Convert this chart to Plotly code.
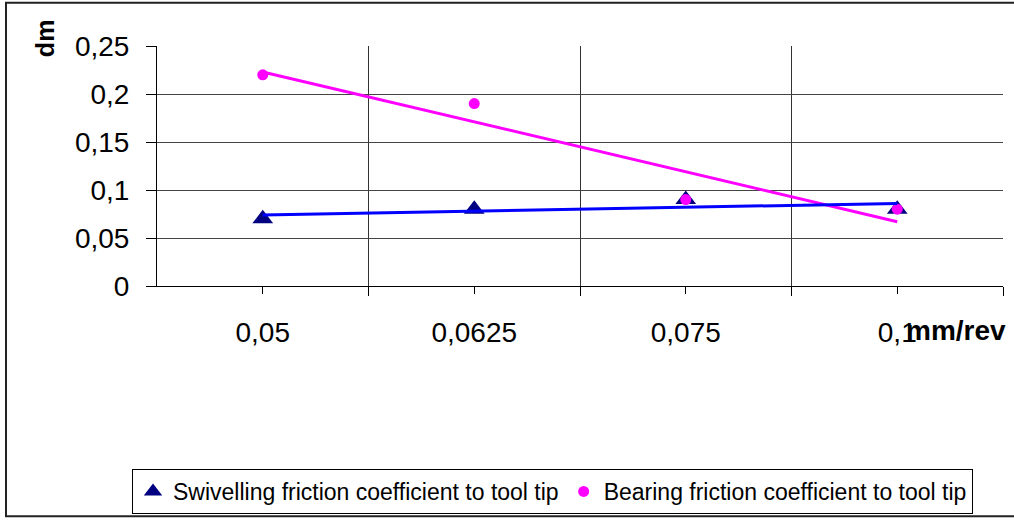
import numpy as np
import plotly.graph_objects as go

# ---- data ----
categories = ["0,05", "0,0625", "0,075", "0,1"]
swivelling = [0.07, 0.08, 0.09, 0.08]
bearing = [0.22, 0.19, 0.09, 0.08]
y_tickvals = [0, 0.05, 0.10, 0.15, 0.20, 0.25]
y_ticktext = ["0", "0,05", "0,1", "0,15", "0,2", "0,25"]
series_names = ["Swivelling friction coefficient to tool tip",
                "Bearing friction coefficient to tool tip"]

x_idx = np.arange(1, len(categories) + 1)

W, H = 1014, 525
L, R, T, B = 157, 11, 46, 235
pw, ph = W - L - R, H - T - B


def px(xp):
    return (xp - L) / pw


def py(yp):
    return (H - B - yp) / ph


FONT = "Liberation Sans, Arial, sans-serif"

fig = go.Figure()

fig.add_trace(go.Scatter(
    x=x_idx, y=swivelling, mode="markers", name=series_names[0],
    marker=dict(symbol="triangle-up", size=18, color="#000080"),
))
fig.add_trace(go.Scatter(
    x=x_idx, y=bearing, mode="markers", name=series_names[1],
    marker=dict(symbol="circle", size=11, color="#FF00FF"),
))

# linear trendlines (least squares fit of the series)
for vals, col in [(bearing, "#FF00FF"), (swivelling, "#0000FF")]:
    k, b = np.polyfit(x_idx, vals, 1)
    xs = np.array([x_idx[0], x_idx[-1]])
    fig.add_trace(go.Scatter(
        x=xs, y=k * xs + b, mode="lines", showlegend=False,
        line=dict(color=col, width=3), hoverinfo="skip",
    ))

tick_font = dict(family=FONT, size=28, color="black")

fig.update_xaxes(
    range=[0.5, 4.5], tickvals=list(x_idx), ticktext=categories,
    showgrid=False, zeroline=False,
    showline=True, linecolor="black", linewidth=1,
    ticks="outside", ticklen=7, tickcolor="black", tickwidth=1,
    tickfont=tick_font, ticklabelstandoff=14,
    minor=dict(tickvals=[1.5, 2.5, 3.5, 4.5], showgrid=True,
               gridcolor="#333333", gridwidth=1,
               ticks="outside", ticklen=9, tickcolor="black", tickwidth=1),
)
fig.update_yaxes(
    range=[0, 0.25], tickvals=y_tickvals, ticktext=y_ticktext,
    showgrid=True, gridcolor="#444444", gridwidth=1, zeroline=False,
    showline=True, linecolor="black", linewidth=1,
    ticks="outside", ticklen=10, tickcolor="black", tickwidth=1,
    tickfont=tick_font, ticklabelstandoff=11,
)

fig.update_layout(
    width=W, height=H,
    margin=dict(l=L, r=R, t=T, b=B, pad=0),
    paper_bgcolor="white", plot_bgcolor="white",
    font=dict(family=FONT, color="black"),
    showlegend=True,
    legend=dict(
        orientation="h", x=px(132), y=py(476), xanchor="left", yanchor="top",
        bordercolor="black", borderwidth=1, bgcolor="white",
        font=dict(size=23, family=FONT),
        itemwidth=30, tracegroupgap=0,
    ),
    shapes=[
        dict(type="rect", xref="paper", yref="paper",
             x0=px(6), x1=px(1030), y0=py(524), y1=py(2),
             line=dict(color="#222222", width=2), layer="below"),
    ],
    annotations=[
        dict(text="<b>dm</b>", xref="paper", yref="paper",
             x=px(45), y=py(38), xanchor="center", yanchor="middle",
             textangle=-90, showarrow=False,
             font=dict(size=25, family=FONT)),
        dict(text="<b>mm/rev</b>", xref="paper", yref="paper",
             x=px(904), y=py(335), xanchor="left", yanchor="middle",
             showarrow=False,
             font=dict(size=28, family=FONT)),
    ],
)

fig.write_html("out.html", config={"displayModeBar": False},
               post_script="document.body.style.margin='0';")
